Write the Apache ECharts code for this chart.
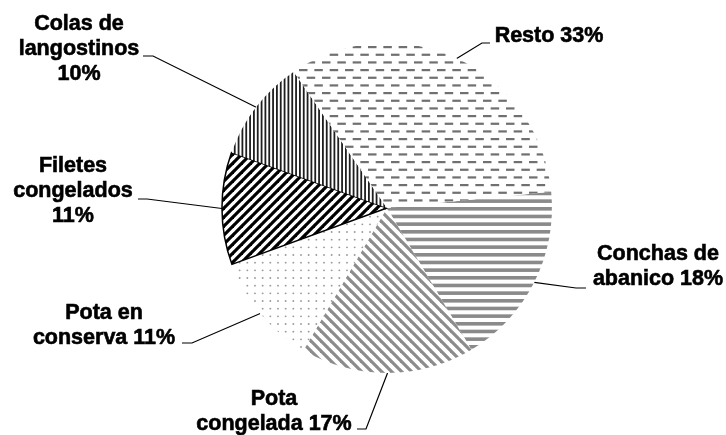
<!DOCTYPE html>
<html>
<head>
<meta charset="utf-8">
<script src="https://cdn.jsdelivr.net/npm/echarts@6/dist/echarts.min.js"></script>
<style>
  html, body { margin: 0; padding: 0; background: #fff; }
  #chart { width: 726px; height: 435px; }
</style>
</head>
<body>
<div id="chart"></div>
<script>
// slices, clockwise from just above 3 o'clock
const names = ['Conchas de abanico', 'Pota congelada', 'Pota en conserva', 'Filetes congelados', 'Colas de langostinos', 'Resto'];
const shares = [18, 17, 11, 11, 10, 33];
const labelTexts = [
    'Conchas de\nabanico {d}%',
    'Pota\ncongelada {d}%',
    'Pota en\nconserva {d}%',
    'Filetes\ncongelados\n{d}%',
    'Colas de\nlangostinos\n{d}%',
    'Resto {d}%'
];

// where each label sits and how its leader line bends
const labelSpots = [
    { x: 658, y: 267, elbow: [576, 288], end: [586, 288] },
    { x: 274, y: 412, elbow: [366, 429], end: [357, 429] },
    { x: 104, y: 326, elbow: [192, 343], end: [182, 343] },
    { x: 73, y: 191, elbow: [147, 199], end: [138, 199] },
    { x: 79, y: 49, elbow: [153, 56], end: [143, 56] },
    { x: 549, y: 36, elbow: [482, 43], end: [490, 43] }
];

function makeTile(w, h, draw) {
    const c = document.createElement('canvas');
    c.width = w;
    c.height = h;
    const ctx = c.getContext('2d');
    ctx.fillStyle = '#fff';
    ctx.fillRect(0, 0, w, h);
    draw(ctx, w, h);
    return { image: c, repeat: 'repeat' };
}

// excel-like pattern fills
const fills = [
    // horizontal gray lines
    makeTile(4, 46, (ctx) => {
        ctx.fillStyle = '#8a8a8a';
        for (let i = 0; i < 6; i++) ctx.fillRect(0, i * 46 / 6, 4, 3.6);
    }),
    // gray downward diagonal
    makeTile(10, 10, (ctx) => {
        ctx.strokeStyle = '#8c8c8c';
        ctx.lineWidth = 3.2;
        for (let k = -1; k <= 1; k++) {
            ctx.beginPath();
            ctx.moveTo(k * 10 - 2, -2);
            ctx.lineTo(k * 10 + 12, 12);
            ctx.stroke();
        }
    }),
    // sparse dots
    makeTile(23, 23, (ctx) => {
        ctx.fillStyle = '#9a9a9a';
        for (let i = 0; i < 3; i++)
            for (let j = 0; j < 3; j++) {
                ctx.beginPath();
                ctx.arc(i * 23 / 3 + 2, j * 23 / 3 + 2, 0.95, 0, Math.PI * 2);
                ctx.fill();
            }
    }),
    // black upward diagonal
    makeTile(9, 9, (ctx) => {
        ctx.strokeStyle = '#000';
        ctx.lineWidth = 3.2;
        for (let k = -1; k <= 1; k++) {
            ctx.beginPath();
            ctx.moveTo(k * 9 - 2, 11);
            ctx.lineTo(k * 9 + 11, -2);
            ctx.stroke();
        }
    }),
    // narrow vertical lines
    makeTile(23, 4, (ctx) => {
        ctx.fillStyle = '#1e1e1e';
        for (let i = 0; i < 6; i++) ctx.fillRect(i * 23 / 6, 0, 1.8, 4);
    }),
    // dashed horizontal
    makeTile(46, 46, (ctx) => {
        ctx.fillStyle = '#707070';
        for (let i = 0; i < 6; i++) {
            const y = i * 46 / 6;
            const off = (i % 2) * 46 / 6;
            for (let j = -1; j < 3; j++) ctx.fillRect(j * 46 / 3 + off, y, 8.5, 2.2);
        }
    })
];

const chart = echarts.init(document.getElementById('chart'));
chart.setOption({
    animation: false,
    backgroundColor: '#fff',
    series: [
        {
            type: 'pie',
            center: ['53.3%', '47.8%'],
            radius: 165,
            startAngle: 5.6,
            clockwise: true,
            avoidLabelOverlap: false,
            percentPrecision: 0,
            label: {
                show: true,
                position: 'outside',
                color: '#000',
                fontFamily: 'Liberation Sans, Arial, sans-serif',
                fontWeight: 'bold',
                fontSize: 21.5,
                lineHeight: 25,
                textBorderColor: '#000',
                textBorderWidth: 0.6
            },
            labelLine: {
                show: true,
                lineStyle: { color: '#000', width: 1.2 }
            },
            labelLayout: function (params) {
                const spot = labelSpots[params.dataIndex];
                const start = params.labelLinePoints ? params.labelLinePoints[0] : spot.elbow;
                return {
                    x: spot.x,
                    y: spot.y,
                    align: 'center',
                    verticalAlign: 'middle',
                    labelLinePoints: [start, spot.elbow, spot.end]
                };
            },
            emphasis: { disabled: true },
            data: names.map((n, i) => ({
                name: n,
                value: shares[i],
                label: { formatter: labelTexts[i] },
                itemStyle: {
                    color: fills[i],
                    borderColor: i === 3 ? '#000' : 'transparent',
                    borderWidth: i === 3 ? 1.5 : 0
                }
            }))
        }
    ]
});
</script>
</body>
</html>
